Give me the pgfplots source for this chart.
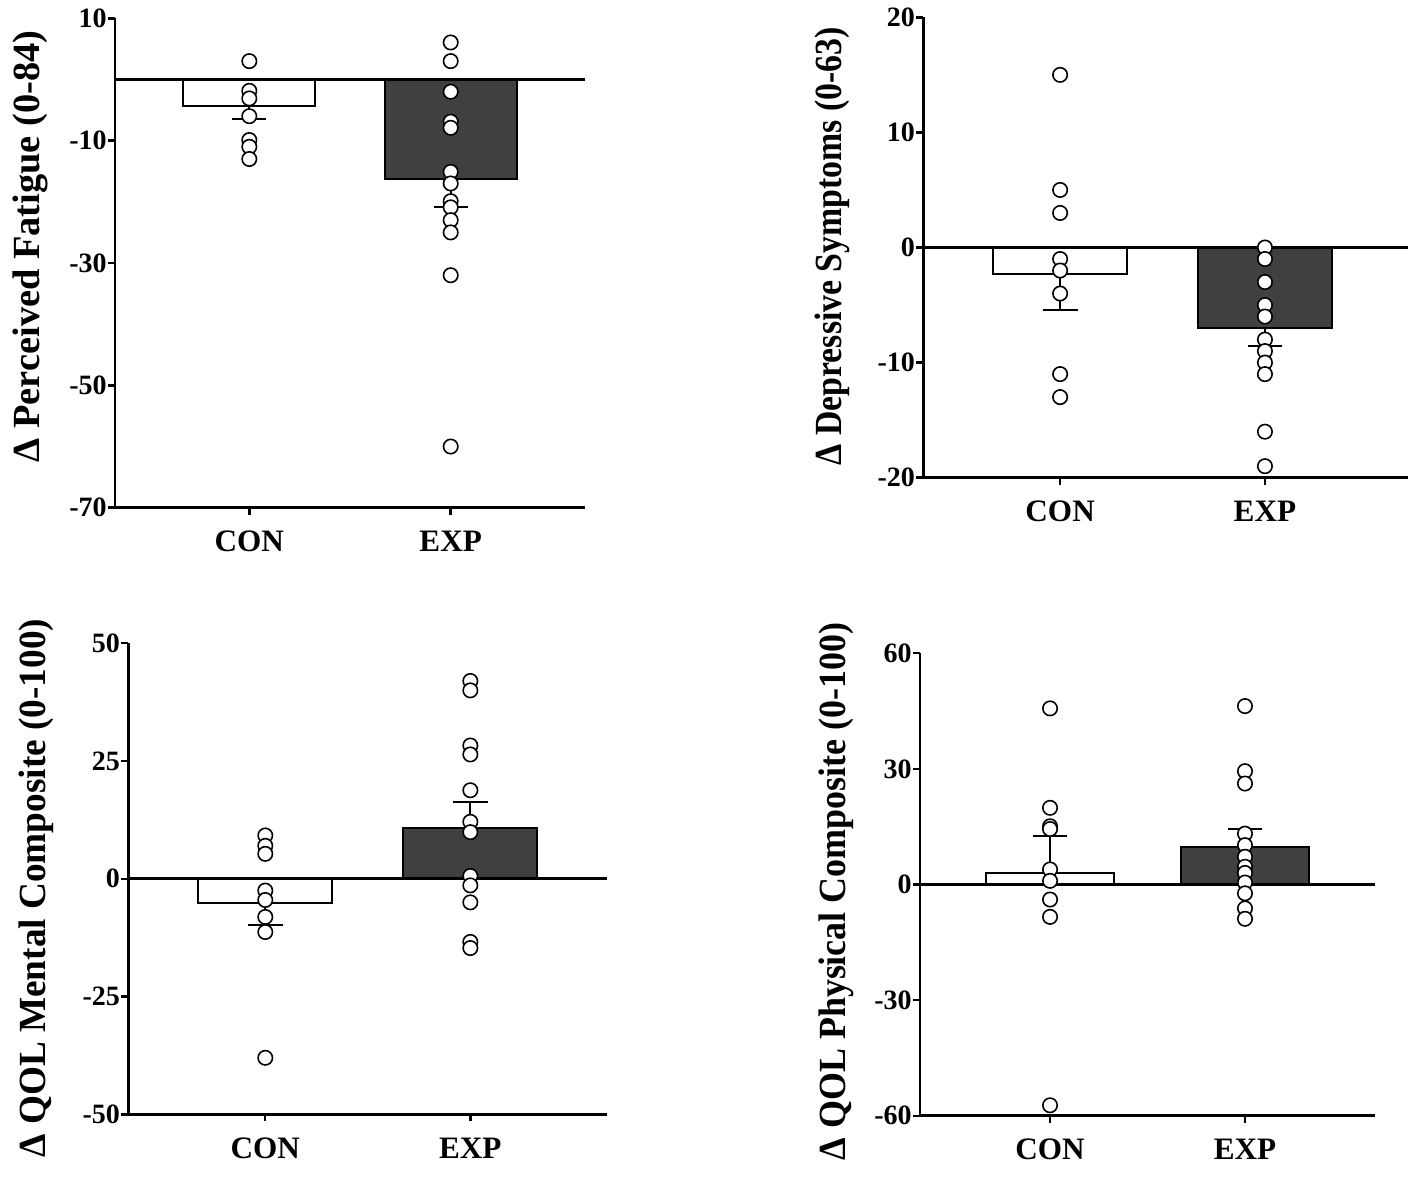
\documentclass[border=0pt]{standalone}
\usepackage{fontspec}
\setmainfont{Liberation Serif}
\usepackage{pgfplots}
\pgfplotsset{compat=1.18}
\definecolor{darkbar}{HTML}{404040}
\pgfplotsset{
  panel/.style={
    scale only axis,
    axis x line=bottom, axis y line=left,
    axis line style={-, line width=1.35pt},
    xtick={0,1}, xticklabels={CON,EXP},
    tick align=outside,
    major tick length=3.5pt,
    tick style={line width=1.2pt, black},
    xticklabel style={font=\fontsize{15.6}{18}\selectfont\bfseries, inner sep=1pt, yshift=-7pt},
    yticklabel style={font=\fontsize{14}{16}\selectfont\bfseries, inner sep=0.5pt},
    /pgf/number format/assume math mode=true,
    clip=false,
  },
  pts/.style={only marks, mark=*, mark size=3.6pt, mark options={fill=white, draw=black, line width=0.8pt}},
  conbar/.style={ybar, bar width=0.655, bar shift=0pt, fill=white, draw=black, line width=1pt},
  expbar/.style={ybar, bar width=0.655, bar shift=0pt, fill=darkbar, draw=black, line width=1pt},
  errl/.style={black, line width=1pt},
  zline/.style={black, line width=1.3pt},
  ylab/.style n args={3}{ylabel style={font=\fontsize{19.2}{22}\selectfont\bfseries, at={([xshift=-#2]axis description cs:0,#1)}, anchor=center, xscale=#3}},
}
\begin{document}
\begin{tikzpicture}
\path[use as bounding box] (0,0) rectangle (708.5pt,597.5pt);

% Panel 1
\begin{axis}[panel, at={(57.5pt,343.65pt)}, anchor=south west,
  width=235pt, height=244.7pt, xmin=-0.667, xmax=1.667, ymin=-70, ymax=10,
  ytick={-70,-50,-30,-10,10}, yticklabels={-70,-50,-30,-10,10},
  ylabel={Δ Perceived Fatigue (0-84)}, ylab={0.534}{42.5pt}{1.0}]
\addplot[conbar] coordinates {(0,-4.36)};
\addplot[expbar] coordinates {(1,-16.24)};
\addplot[zline] coordinates {(-0.667,0) (1.667,0)};
\addplot[errl] coordinates {(0,-4.36) (0,-6.5)};
\addplot[errl] coordinates {(-0.085,-6.5) (0.085,-6.5)};
\addplot[errl] coordinates {(1,-16.24) (1,-20.9)};
\addplot[errl] coordinates {(0.915,-20.9) (1.085,-20.9)};
\addplot[pts] coordinates {(0,3) (0,-1.85) (0,-3.1) (0,-6) (0,-9.9) (0,-11) (0,-13)};
\addplot[pts] coordinates {(1,6.05) (1,3) (1,-2) (1,-6.9) (1,-7.9) (1,-15.1) (1,-17) (1,-19.9) (1,-20.9) (1,-23) (1,-25) (1,-32) (1,-60)};
\end{axis}

% Panel 2
\begin{axis}[panel, at={(461.65pt,358.65pt)}, anchor=south west,
  width=242.5pt, height=230.2pt, xmin=-0.668, xmax=1.70, ymin=-20, ymax=20,
  ytick={-20,-10,0,10,20}, yticklabels={-20,-10,0,10,20},
  ylabel={Δ Depressive Symptoms (0-63)}, ylab={0.503}{45.5pt}{0.88}]
\addplot[conbar] coordinates {(0,-2.26)};
\addplot[expbar] coordinates {(1,-7.0)};
\addplot[zline] coordinates {(-0.668,0) (1.70,0)};
\addplot[errl] coordinates {(0,-2.26) (0,-5.4)};
\addplot[errl] coordinates {(-0.085,-5.4) (0.085,-5.4)};
\addplot[errl] coordinates {(1,-7.0) (1,-8.6)};
\addplot[errl] coordinates {(0.915,-8.6) (1.085,-8.6)};
\addplot[pts] coordinates {(0,15) (0,5) (0,3) (0,-1) (0,-2) (0,-4) (0,-11) (0,-13)};
\addplot[pts] coordinates {(1,0) (1,-1) (1,-3) (1,-5) (1,-6) (1,-8) (1,-9) (1,-10) (1,-11) (1,-16) (1,-19)};
\end{axis}

% Panel 3
\begin{axis}[panel, at={(64.15pt,40.35pt)}, anchor=south west,
  width=239.2pt, height=235.5pt, xmin=-0.668, xmax=1.665, ymin=-50, ymax=50,
  ytick={-50,-25,0,25,50}, yticklabels={-50,-25,0,25,50},
  ylabel={Δ QOL Mental Composite (0-100)}, ylab={0.480}{46pt}{0.97}]
\addplot[conbar] coordinates {(0,-5.1)};
\addplot[expbar] coordinates {(1,10.83)};
\addplot[zline] coordinates {(-0.668,0) (1.665,0)};
\addplot[errl] coordinates {(0,-5.1) (0,-9.9)};
\addplot[errl] coordinates {(-0.085,-9.9) (0.085,-9.9)};
\addplot[errl] coordinates {(1,10.83) (1,16.3)};
\addplot[errl] coordinates {(0.915,16.3) (1.085,16.3)};
\addplot[pts] coordinates {(0,9.2) (0,7.0) (0,5.3) (0,-2.5) (0,-4.5) (0,-8.1) (0,-11.3) (0,-38.0)};
\addplot[pts] coordinates {(1,42) (1,40) (1,28.3) (1,26.4) (1,18.8) (1,12.1) (1,9.9) (1,0.6) (1,-1.4) (1,-5.0) (1,-13.4) (1,-14.7)};
\end{axis}

% Panel 4
\begin{axis}[panel, at={(460pt,39.65pt)}, anchor=south west,
  width=227.5pt, height=231.2pt, xmin=-0.667, xmax=1.667, ymin=-60, ymax=60,
  ytick={-60,-30,0,30,60}, yticklabels={-60,-30,0,30,60},
  ylabel={Δ QOL Physical Composite (0-100)}, ylab={0.485}{42pt}{0.936}]
\addplot[conbar] coordinates {(0,3.1)};
\addplot[expbar] coordinates {(1,9.77)};
\addplot[zline] coordinates {(-0.667,0) (1.667,0)};
\addplot[errl] coordinates {(0,3.1) (0,12.6)};
\addplot[errl] coordinates {(-0.085,12.6) (0.085,12.6)};
\addplot[errl] coordinates {(1,9.77) (1,14.36)};
\addplot[errl] coordinates {(0.915,14.36) (1.085,14.36)};
\addplot[pts] coordinates {(0,45.7) (0,19.9) (0,15.1) (0,14.4) (0,3.9) (0,0.95) (0,-3.9) (0,-8.4) (0,-57.3)};
\addplot[pts] coordinates {(1,46.3) (1,29.4) (1,26.2) (1,13.2) (1,10.2) (1,7.2) (1,4.6) (1,3.0) (1,0.5) (1,-2.3) (1,-6.2) (1,-8.9)};
\end{axis}
\end{tikzpicture}
\end{document}
